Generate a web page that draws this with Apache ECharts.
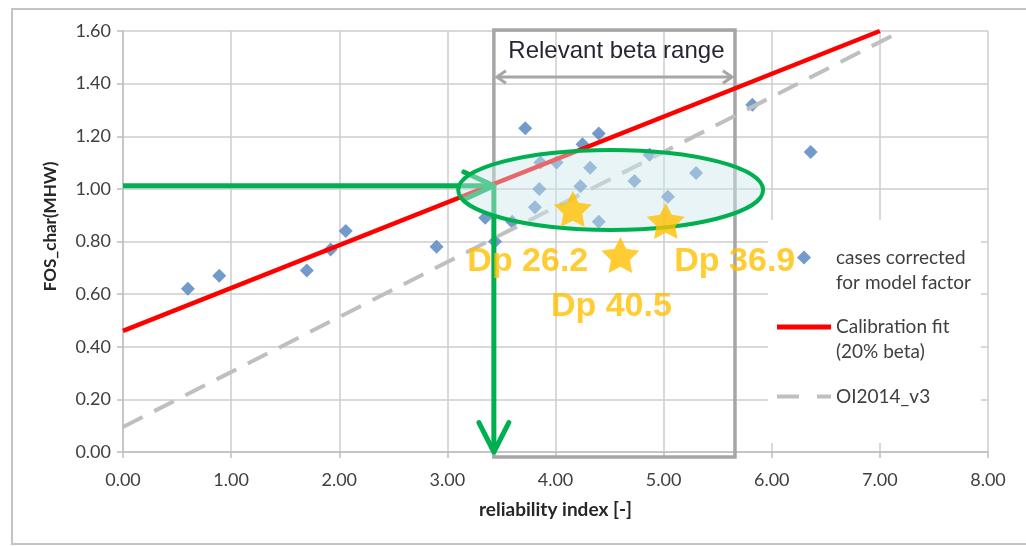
<!DOCTYPE html>
<html><head><meta charset="utf-8">
<script src="https://cdn.jsdelivr.net/npm/echarts@6/dist/echarts.min.js"></script>
<style>html,body{margin:0;padding:0;background:#fff}#c{width:1026px;height:546px}</style>
</head><body><div id="c"></div>
<script>
// ---- data ----
const caseBeta = [0.60, 0.89, 1.70, 1.92, 2.06, 2.90, 3.35, 3.44, 3.60, 3.72, 3.81, 3.85, 3.86, 4.01, 4.23, 4.25, 4.32, 4.40, 4.40, 4.73, 4.87, 5.04, 5.30, 5.82, 6.36];
const caseFos  = [0.62, 0.67, 0.69, 0.77, 0.84, 0.78, 0.89, 0.80, 0.875, 1.23, 0.93, 1.00, 1.10, 1.10, 1.01, 1.17, 1.08, 1.21, 0.875, 1.03, 1.13, 0.97, 1.06, 1.32, 1.14];
const fitBeta = [0.0, 7.0];
const fitFos  = [0.46, 1.60];
const oiBeta = [0.0, 7.2];
const oiFos  = [0.095, 1.60];
const starBeta = [4.16, 4.60, 5.02];
const starFos  = [0.924, 0.749, 0.878];
const starNames = ['Dp 26.2', 'Dp 40.5', 'Dp 36.9'];
const seriesNames = ['cases corrected\nfor model factor', 'Calibration fit\n(20% beta)', 'OI2014_v3'];
const betaRange = [3.43, 5.66];
const rangeTitle = 'Relevant beta range';
const readBeta = 3.43;
const readFos = 1.012;
const ellipseCenter = [4.51, 0.996];
const ellipseHalf = [1.41, 0.152];
const xAxisTitle = 'reliability index [-]';
const yAxisTitle = 'FOS_char(MHW)';

const zip = (a, b) => a.map((v, i) => [v, b[i]]);
const labelOffsets = [[-45, 53], [-9, 52], [69, 41]];
const starPath = 'path://M0,-10 L2.94,-4.05 L9.51,-3.09 L4.76,1.55 L5.88,8.09 L0,5 L-5.88,8.09 L-4.76,1.55 L-9.51,-3.09 L-2.94,-4.05 Z';
const tickFont = {fontFamily: 'Lato', fontSize: 18, color: '#404040'};

const option = {
  animation: false,
  backgroundColor: '#fff',
  grid: {left: 123, right: 38, top: 31, bottom: 94},
  xAxis: {
    type: 'value', min: 0, max: 8, interval: 1,
    name: xAxisTitle, nameLocation: 'middle', nameGap: 48,
    nameTextStyle: {fontFamily: 'Lato', fontWeight: 'bold', fontSize: 19, color: '#262626'},
    axisLine: {lineStyle: {color: '#bfbfbf', width: 1.5}},
    axisTick: {show: true, length: 6, lineStyle: {color: '#bfbfbf', width: 1.5}},
    axisLabel: Object.assign({margin: 19, formatter: v => v.toFixed(2)}, tickFont),
    splitLine: {show: true, lineStyle: {color: '#cdcdcd', width: 1.5}}
  },
  yAxis: {
    type: 'value', min: 0, max: 1.6, interval: 0.2,
    name: yAxisTitle, nameLocation: 'middle', nameGap: 64, nameRotate: 90,
    nameTextStyle: {fontFamily: 'Lato', fontWeight: 'bold', fontSize: 17, color: '#262626', padding: [0, 0, 0, 30]},
    axisLine: {show: true, lineStyle: {color: '#bfbfbf', width: 1.5}},
    axisTick: {show: true, length: 6, lineStyle: {color: '#bfbfbf', width: 1.5}},
    axisLabel: Object.assign({margin: 12, formatter: v => v.toFixed(2)}, tickFont),
    splitLine: {show: true, lineStyle: {color: '#cdcdcd', width: 1.5}}
  },
  legend: {
    orient: 'vertical', left: 768, top: 220, padding: [0, 10, 9, 9], itemGap: -5.5,
    backgroundColor: '#fff', itemWidth: 54, itemHeight: 14, symbolKeepAspect: true,
    formatter: name => name.indexOf('\n') >= 0 ? ' \n' + name : ' \n' + name + '\n ',
    textStyle: {fontFamily: 'Lato', fontSize: 19, color: '#404040', lineHeight: 25},
    data: [
      {name: seriesNames[0], icon: 'path://M0,-1 L1,0 L0,1 L-1,0 Z'},
      {name: seriesNames[1], icon: 'path://M0,0 H54 V5 H0 Z'},
      {name: seriesNames[2], icon: 'path://M0,0 H22 V4 H0 Z M40,0 H54 V4 H40 Z'}
    ]
  },
  series: [
    {name: seriesNames[0], type: 'scatter', symbol: 'diamond', symbolSize: 14,
     itemStyle: {color: '#4f81bd'}, data: zip(caseBeta, caseFos), z: 2},
    {name: seriesNames[1], type: 'line', symbol: 'none', showSymbol: false,
     lineStyle: {color: '#ff0000', width: 4.5}, itemStyle: {color: '#ff0000'},
     data: zip(fitBeta, fitFos), z: 3},
    {name: seriesNames[2], type: 'line', symbol: 'none', showSymbol: false,
     lineStyle: {color: '#bfbfbf', width: 4, type: [22, 13]}, itemStyle: {color: '#bfbfbf'},
     data: zip(oiBeta, oiFos), z: 3},
    {name: 'stars', type: 'scatter', symbol: starPath, symbolSize: [38, 36], z: 10,
     itemStyle: {color: '#ffc000'}, legendHoverLink: false,
     data: starBeta.map((b, i) => ({
       value: [b, starFos[i]],
       label: {show: true, formatter: starNames[i], position: 'inside', offset: labelOffsets[i],
               fontFamily: 'Liberation Sans', fontWeight: 'bold', fontSize: 34, color: '#ffc000'}
     }))}
  ]
};

const chart = echarts.init(document.getElementById('c'), null, {renderer: 'canvas'});
chart.setOption(option);

const px = (b, f) => chart.convertToPixel({gridIndex: 0}, [b, f]);
function barbs(tip, ang, len, spread) {
  const a1 = ang + Math.PI - spread, a2 = ang + Math.PI + spread;
  return [[tip[0] + len * Math.cos(a1), tip[1] + len * Math.sin(a1)], tip,
          [tip[0] + len * Math.cos(a2), tip[1] + len * Math.sin(a2)]];
}
const green = '#00b050';
const gTop = px(0, 1.6)[1], gBot = px(0, 0)[1];
const bl = px(betaRange[0], 0)[0], br = px(betaRange[1], 0)[0];
const hStart = px(0, readFos), hEnd = px(readBeta, readFos), vEnd = px(readBeta, 0);
const ec = px(ellipseCenter[0], ellipseCenter[1]);
const erx = px(ellipseCenter[0] + ellipseHalf[0], 0)[0] - ec[0];
const ery = ec[1] - px(0, ellipseCenter[1] + ellipseHalf[1])[1];
const arrowY = gTop + 46;

chart.setOption({
  graphic: [
    {type: 'rect', z: 0, silent: true, shape: {x: 12, y: 9, width: 1030, height: 535},
     style: {fill: 'none', stroke: '#c4c4c4', lineWidth: 2}},
    {type: 'rect', z: 3, silent: true, shape: {x: bl, y: gTop - 1, width: br - bl, height: gBot - gTop + 6},
     style: {fill: 'none', stroke: '#a6a6a6', lineWidth: 3.5}},
    {type: 'text', z: 3, silent: true, x: (bl + br) / 2 + 2, y: gTop + 20,
     style: {text: rangeTitle, fontFamily: 'Liberation Sans', fontSize: 24, fill: '#262633', align: 'center', verticalAlign: 'middle'}},
    {type: 'polyline', z: 3, silent: true, shape: {points: [[bl + 3, arrowY], [br - 3, arrowY]]},
     style: {stroke: '#a6a6a6', lineWidth: 3, fill: 'none'}},
    {type: 'polyline', z: 3, silent: true, shape: {points: barbs([bl + 3, arrowY], Math.PI, 11, 0.6)},
     style: {stroke: '#a6a6a6', lineWidth: 3, fill: 'none'}},
    {type: 'polyline', z: 3, silent: true, shape: {points: barbs([br - 3, arrowY], 0, 11, 0.6)},
     style: {stroke: '#a6a6a6', lineWidth: 3, fill: 'none'}},
    {type: 'polyline', z: 4, silent: true, shape: {points: [hStart, hEnd]},
     style: {stroke: green, lineWidth: 5, fill: 'none'}},
    {type: 'polyline', z: 4, silent: true, shape: {points: barbs(hEnd, 0, 33, 0.43)},
     style: {stroke: green, lineWidth: 5, fill: 'none', lineCap: 'round', lineJoin: 'round'}},
    {type: 'polyline', z: 4, silent: true, shape: {points: [hEnd, vEnd]},
     style: {stroke: green, lineWidth: 5, fill: 'none'}},
    {type: 'polyline', z: 4, silent: true, shape: {points: barbs(vEnd, Math.PI / 2, 33, 0.47)},
     style: {stroke: green, lineWidth: 5, fill: 'none', lineCap: 'round', lineJoin: 'round'}},
    {type: 'ellipse', z: 5, silent: true, shape: {cx: ec[0], cy: ec[1], rx: erx, ry: ery},
     style: {fill: 'rgba(204,230,235,0.45)', stroke: green, lineWidth: 4}}
  ]
});
</script></body></html>
